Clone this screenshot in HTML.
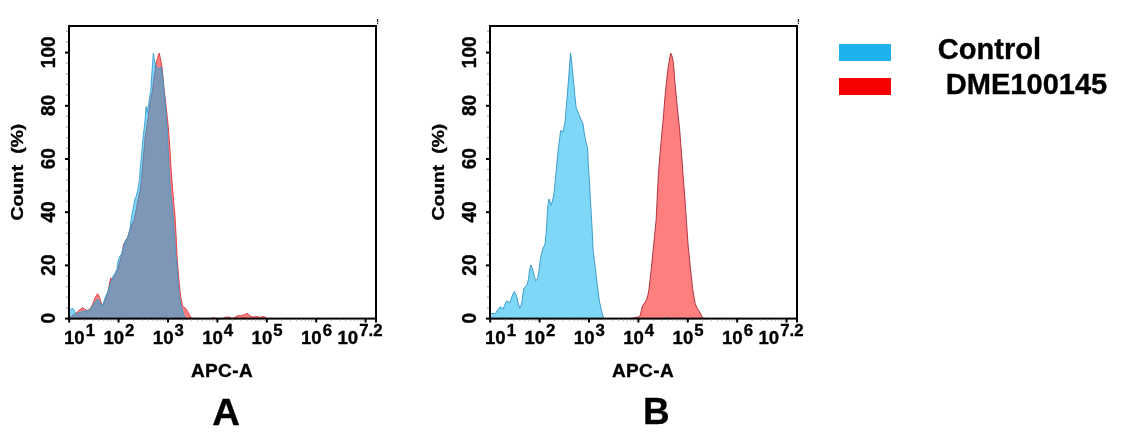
<!DOCTYPE html>
<html><head><meta charset="utf-8"><title>Flow cytometry</title>
<style>
html,body{margin:0;padding:0;background:#fff;}
body{width:1124px;height:444px;overflow:hidden;position:relative;font-family:"Liberation Sans",Arial,Helvetica,sans-serif;}
svg{position:absolute;left:0;top:0;}
text{font-family:"Liberation Sans",Arial,Helvetica,sans-serif;font-weight:bold;fill:#000;stroke:#000;stroke-width:0.35px;}
.yt{font-size:20px;}
.xt{font-size:18.6px;}
.sup{font-size:16.8px;}
.xl{font-size:19px;letter-spacing:0.4px;}
.yl{font-size:17px;word-spacing:5px;}
.big{font-size:36.9px;}
.leg{font-size:29.05px;}
</style></head><body>
<svg width="1124" height="444" viewBox="0 0 1124 444">
<rect width="1124" height="444" fill="#fff"/>
<!-- Panel A -->
<polygon points="69.0,318.6 71.0,316.6 73.0,315.1 76.0,313.1 78.5,311.1 81.0,308.6 82.5,307.6 84.5,309.1 87.0,310.6 90.0,309.1 92.5,304.6 95.0,298.1 96.8,294.6 97.8,293.8 99.0,296.1 100.5,300.6 102.5,306.1 104.5,301.6 106.5,296.6 108.5,289.5 109.8,281.5 110.8,277.9 112.0,279.5 114.0,276.5 116.0,273.5 118.0,268.5 119.5,262.5 121.0,257.5 122.5,252.5 123.5,243.9 124.5,243.0 125.5,241.4 127.6,237.4 129.5,231.4 131.0,226.4 133.9,220.4 136.3,209.3 137.9,199.9 140.2,190.3 141.5,178.3 142.6,165.3 144.0,150.3 145.3,135.2 146.3,129.6 148.0,118.2 149.7,104.8 151.2,97.1 152.5,90.1 153.7,80.1 154.7,73.1 155.8,63.7 157.0,60.1 158.2,56.1 159.2,53.1 160.1,57.1 161.1,62.0 161.9,66.1 162.6,73.1 163.5,82.1 164.2,90.1 165.5,100.2 166.5,110.2 167.4,118.2 168.3,127.2 169.0,136.2 170.0,150.3 170.9,165.3 171.9,180.3 173.2,195.3 174.0,205.4 174.9,214.1 176.2,237.7 177.3,260.5 178.9,279.5 180.6,296.3 182.5,305.6 184.0,307.6 185.3,308.1 186.5,309.6 187.7,311.6 189.5,315.1 191.2,317.6 193.0,318.6 211.0,318.6 213.5,317.4 216.0,318.6 223.0,318.6 225.0,317.1 230.0,317.1 231.5,318.6 233.0,318.6 235.0,317.1 237.8,315.8 240.5,315.6 243.0,315.2 245.0,314.4 247.2,313.2 249.0,315.1 251.4,316.6 254.0,317.1 256.0,316.6 257.7,316.4 260.0,317.6 261.5,316.8 263.0,316.6 265.5,317.1 267.0,318.6" fill="rgba(255,0,0,0.5)" stroke="#d6303a" stroke-width="0.85" stroke-linejoin="round"/>
<polygon points="69.0,318.6 69.5,310.6 71.0,309.1 72.5,308.1 74.5,311.1 76.5,314.6 79.0,312.6 82.0,311.6 85.0,311.1 88.5,310.6 91.0,308.6 93.5,304.6 96.0,300.6 98.0,299.1 100.0,302.1 102.0,306.6 103.5,302.6 105.5,296.6 107.5,292.5 109.5,286.5 111.0,281.5 113.0,276.5 115.0,273.0 116.8,269.5 118.0,261.5 119.3,257.0 121.3,254.5 122.5,250.5 123.5,246.5 125.0,241.4 127.6,237.4 129.0,232.4 130.0,229.4 130.8,221.9 132.0,214.1 133.9,204.6 134.9,198.4 136.0,196.6 137.5,191.3 138.5,185.3 139.4,179.8 140.5,165.3 142.0,150.3 143.2,135.2 144.2,128.2 145.2,118.2 146.1,106.5 146.7,110.2 147.1,112.7 147.8,108.2 148.6,104.8 149.6,97.1 150.8,90.1 151.9,73.1 152.8,60.1 153.4,53.1 154.1,58.1 155.0,63.6 156.5,66.1 158.0,69.1 160.0,68.1 161.4,67.1 162.3,73.9 163.2,82.1 163.8,90.1 165.1,101.2 166.3,118.2 167.2,130.2 167.6,137.2 168.2,150.3 168.9,165.3 169.8,180.3 170.9,195.3 172.3,205.4 173.0,215.4 174.1,229.8 174.9,241.4 175.7,253.5 176.8,265.5 177.6,276.5 178.4,286.5 179.4,296.6 180.6,303.6 182.9,311.6 184.2,315.6 185.3,318.6" fill="rgba(0,176,240,0.5)" stroke="#3399cc" stroke-width="0.85" stroke-linejoin="round"/>
<rect x="69" y="26" width="307" height="292.6" fill="none" stroke="#000" stroke-width="2"/>
<rect x="65" y="317.6" width="4" height="2" fill="#000"/>
<rect x="66" y="307.3" width="2" height="1.2" fill="#a8a8a8"/>
<rect x="66" y="296.6" width="2" height="1.2" fill="#a8a8a8"/>
<rect x="66" y="286.0" width="2" height="1.2" fill="#a8a8a8"/>
<rect x="66" y="275.3" width="2" height="1.2" fill="#a8a8a8"/>
<rect x="65" y="264.4" width="4" height="2" fill="#000"/>
<rect x="66" y="254.1" width="2" height="1.2" fill="#a8a8a8"/>
<rect x="66" y="243.4" width="2" height="1.2" fill="#a8a8a8"/>
<rect x="66" y="232.8" width="2" height="1.2" fill="#a8a8a8"/>
<rect x="66" y="222.1" width="2" height="1.2" fill="#a8a8a8"/>
<rect x="65" y="211.2" width="4" height="2" fill="#000"/>
<rect x="66" y="200.9" width="2" height="1.2" fill="#a8a8a8"/>
<rect x="66" y="190.2" width="2" height="1.2" fill="#a8a8a8"/>
<rect x="66" y="179.6" width="2" height="1.2" fill="#a8a8a8"/>
<rect x="66" y="168.9" width="2" height="1.2" fill="#a8a8a8"/>
<rect x="65" y="158.0" width="4" height="2" fill="#000"/>
<rect x="66" y="147.7" width="2" height="1.2" fill="#a8a8a8"/>
<rect x="66" y="137.0" width="2" height="1.2" fill="#a8a8a8"/>
<rect x="66" y="126.4" width="2" height="1.2" fill="#a8a8a8"/>
<rect x="66" y="115.7" width="2" height="1.2" fill="#a8a8a8"/>
<rect x="65" y="104.8" width="4" height="2" fill="#000"/>
<rect x="66" y="94.5" width="2" height="1.2" fill="#a8a8a8"/>
<rect x="66" y="83.8" width="2" height="1.2" fill="#a8a8a8"/>
<rect x="66" y="73.2" width="2" height="1.2" fill="#a8a8a8"/>
<rect x="66" y="62.5" width="2" height="1.2" fill="#a8a8a8"/>
<rect x="65" y="51.6" width="4" height="2" fill="#000"/>
<rect x="66" y="41.3" width="2" height="1.2" fill="#a8a8a8"/>
<rect x="66" y="30.6" width="2" height="1.2" fill="#a8a8a8"/>
<text transform="translate(55,318.3) rotate(-90) scale(0.95,1)" text-anchor="middle" class="yt">0</text>
<text transform="translate(55,265.1) rotate(-90) scale(0.95,1)" text-anchor="middle" class="yt">20</text>
<text transform="translate(55,211.9) rotate(-90) scale(0.95,1)" text-anchor="middle" class="yt">40</text>
<text transform="translate(55,158.7) rotate(-90) scale(0.95,1)" text-anchor="middle" class="yt">60</text>
<text transform="translate(55,105.5) rotate(-90) scale(0.95,1)" text-anchor="middle" class="yt">80</text>
<text transform="translate(55,52.3) rotate(-90) scale(0.95,1)" text-anchor="middle" class="yt">100</text>
<rect x="68.2" y="318.6" width="2" height="3.9" fill="#000"/>
<rect x="83.6" y="319.6" width="1" height="1.6" fill="#b8b8b8"/>
<rect x="92.3" y="319.6" width="1" height="1.6" fill="#b8b8b8"/>
<rect x="98.4" y="319.6" width="1" height="1.6" fill="#b8b8b8"/>
<rect x="103.2" y="319.6" width="1" height="1.6" fill="#b8b8b8"/>
<rect x="107.1" y="319.6" width="1" height="1.6" fill="#b8b8b8"/>
<rect x="110.4" y="319.6" width="1" height="1.6" fill="#b8b8b8"/>
<rect x="113.3" y="319.6" width="1" height="1.6" fill="#b8b8b8"/>
<rect x="115.8" y="319.6" width="1" height="1.6" fill="#b8b8b8"/>
<rect x="117.6" y="318.6" width="2" height="3.9" fill="#000"/>
<rect x="133.0" y="319.6" width="1" height="1.6" fill="#b8b8b8"/>
<rect x="141.7" y="319.6" width="1" height="1.6" fill="#b8b8b8"/>
<rect x="147.8" y="319.6" width="1" height="1.6" fill="#b8b8b8"/>
<rect x="152.6" y="319.6" width="1" height="1.6" fill="#b8b8b8"/>
<rect x="156.5" y="319.6" width="1" height="1.6" fill="#b8b8b8"/>
<rect x="159.8" y="319.6" width="1" height="1.6" fill="#b8b8b8"/>
<rect x="162.7" y="319.6" width="1" height="1.6" fill="#b8b8b8"/>
<rect x="165.2" y="319.6" width="1" height="1.6" fill="#b8b8b8"/>
<rect x="167.0" y="318.6" width="2" height="3.9" fill="#000"/>
<rect x="182.4" y="319.6" width="1" height="1.6" fill="#b8b8b8"/>
<rect x="191.1" y="319.6" width="1" height="1.6" fill="#b8b8b8"/>
<rect x="197.2" y="319.6" width="1" height="1.6" fill="#b8b8b8"/>
<rect x="202.0" y="319.6" width="1" height="1.6" fill="#b8b8b8"/>
<rect x="205.9" y="319.6" width="1" height="1.6" fill="#b8b8b8"/>
<rect x="209.2" y="319.6" width="1" height="1.6" fill="#b8b8b8"/>
<rect x="212.1" y="319.6" width="1" height="1.6" fill="#b8b8b8"/>
<rect x="214.6" y="319.6" width="1" height="1.6" fill="#b8b8b8"/>
<rect x="216.4" y="318.6" width="2" height="3.9" fill="#000"/>
<rect x="231.8" y="319.6" width="1" height="1.6" fill="#b8b8b8"/>
<rect x="240.5" y="319.6" width="1" height="1.6" fill="#b8b8b8"/>
<rect x="246.6" y="319.6" width="1" height="1.6" fill="#b8b8b8"/>
<rect x="251.4" y="319.6" width="1" height="1.6" fill="#b8b8b8"/>
<rect x="255.3" y="319.6" width="1" height="1.6" fill="#b8b8b8"/>
<rect x="258.6" y="319.6" width="1" height="1.6" fill="#b8b8b8"/>
<rect x="261.5" y="319.6" width="1" height="1.6" fill="#b8b8b8"/>
<rect x="264.0" y="319.6" width="1" height="1.6" fill="#b8b8b8"/>
<rect x="265.8" y="318.6" width="2" height="3.9" fill="#000"/>
<rect x="281.2" y="319.6" width="1" height="1.6" fill="#b8b8b8"/>
<rect x="289.9" y="319.6" width="1" height="1.6" fill="#b8b8b8"/>
<rect x="296.0" y="319.6" width="1" height="1.6" fill="#b8b8b8"/>
<rect x="300.8" y="319.6" width="1" height="1.6" fill="#b8b8b8"/>
<rect x="304.7" y="319.6" width="1" height="1.6" fill="#b8b8b8"/>
<rect x="308.0" y="319.6" width="1" height="1.6" fill="#b8b8b8"/>
<rect x="310.9" y="319.6" width="1" height="1.6" fill="#b8b8b8"/>
<rect x="313.4" y="319.6" width="1" height="1.6" fill="#b8b8b8"/>
<rect x="315.2" y="318.6" width="2" height="3.9" fill="#000"/>
<rect x="330.6" y="319.6" width="1" height="1.6" fill="#b8b8b8"/>
<rect x="339.3" y="319.6" width="1" height="1.6" fill="#b8b8b8"/>
<rect x="345.4" y="319.6" width="1" height="1.6" fill="#b8b8b8"/>
<rect x="350.2" y="319.6" width="1" height="1.6" fill="#b8b8b8"/>
<rect x="354.1" y="319.6" width="1" height="1.6" fill="#b8b8b8"/>
<rect x="357.4" y="319.6" width="1" height="1.6" fill="#b8b8b8"/>
<rect x="360.3" y="319.6" width="1" height="1.6" fill="#b8b8b8"/>
<rect x="362.8" y="319.6" width="1" height="1.6" fill="#b8b8b8"/>
<rect x="364.6" y="318.6" width="2" height="3.9" fill="#000"/>
<rect x="375.0" y="318.6" width="2" height="3.9" fill="#000"/>
<text class="xt" text-anchor="start" transform="translate(64.0,343.8) scale(1,1)">10<tspan dy="-8.1" dx="1.0" class="sup">1</tspan></text>
<text class="xt" text-anchor="middle" transform="translate(118.9,343.8) scale(1,1)">10<tspan dy="-8.1" dx="1.0" class="sup">2</tspan></text>
<text class="xt" text-anchor="middle" transform="translate(168.3,343.8) scale(1,1)">10<tspan dy="-8.1" dx="1.0" class="sup">3</tspan></text>
<text class="xt" text-anchor="middle" transform="translate(217.7,343.8) scale(1,1)">10<tspan dy="-8.1" dx="1.0" class="sup">4</tspan></text>
<text class="xt" text-anchor="middle" transform="translate(267.1,343.8) scale(1,1)">10<tspan dy="-8.1" dx="1.0" class="sup">5</tspan></text>
<text class="xt" text-anchor="middle" transform="translate(316.5,343.8) scale(1,1)">10<tspan dy="-8.1" dx="1.0" class="sup">6</tspan></text>
<text class="xt" text-anchor="end" transform="translate(382.5,343.8) scale(1,1)">10<tspan dy="-8.1" dx="1.0" class="sup">7.2</tspan></text>
<text x="222" y="377" text-anchor="middle" class="xl">APC-A</text>
<text transform="translate(22.6,172.1) rotate(-90) scale(1.135,1)" text-anchor="middle" class="yl" xml:space="preserve">Count (%)</text>
<text transform="translate(226.2,425.2) scale(1.04,1)" text-anchor="middle" class="big">A</text>
<rect x="377" y="19" width="1.2" height="3.2" fill="#222"/><rect x="377" y="23" width="1.2" height="1.2" fill="#222"/>
<!-- Panel B -->
<polygon points="490.0,318.6 490.6,313.5 495.4,313.5 497.5,310.1 500.1,306.9 501.5,307.6 502.9,309.3 504.5,305.6 506.5,301.0 508.0,301.6 509.6,302.9 511.0,299.6 512.6,294.6 514.3,291.4 515.5,293.5 516.6,296.3 518.0,302.6 519.7,308.1 521.0,305.6 522.1,301.0 523.0,293.5 523.7,289.1 525.5,286.5 527.3,284.3 528.5,278.5 529.7,269.5 530.8,264.9 532.0,267.5 533.2,271.3 534.4,276.5 535.6,280.8 536.8,280.0 537.9,277.2 539.0,270.5 540.2,260.5 541.5,253.6 543.0,248.5 545.0,244.0 546.2,232.4 547.0,220.4 547.4,212.4 548.2,203.4 549.0,198.9 550.0,201.9 551.3,205.2 552.3,201.4 553.5,196.3 554.4,189.3 555.3,180.3 556.2,170.8 558.3,148.3 559.7,138.2 560.5,131.2 561.1,130.2 561.9,131.7 562.7,132.5 563.8,128.2 564.9,123.5 567.2,96.4 568.5,80.1 569.5,66.1 570.5,53.1 571.3,58.1 572.3,68.1 573.9,85.1 575.0,97.1 576.2,107.8 578.5,113.2 580.7,119.0 581.8,120.7 582.9,123.5 584.0,131.2 585.0,137.2 586.3,143.2 587.6,148.3 588.3,164.1 589.7,186.6 591.0,209.2 592.2,230.4 593.0,248.9 594.4,260.5 595.8,272.5 597.5,286.5 599.4,301.0 601.5,310.6 603.6,318.6" fill="rgba(0,176,240,0.5)" stroke="#2b8fbf" stroke-width="0.85" stroke-linejoin="round"/>
<polygon points="630.0,318.6 634.0,317.8 637.9,317.1 639.2,316.6 640.3,315.2 641.5,309.6 642.6,305.7 644.5,303.1 646.6,299.8 648.0,294.6 649.0,289.1 651.4,267.8 653.7,244.0 656.1,220.4 657.2,198.0 658.3,175.3 660.1,152.8 662.1,130.2 663.2,119.0 665.0,96.4 667.3,73.9 669.0,62.1 670.7,53.1 672.0,56.1 673.4,62.6 675.2,85.1 677.4,107.8 679.7,130.2 681.5,152.8 683.1,175.3 684.9,198.0 686.4,220.4 688.0,244.0 690.4,267.8 692.7,289.1 695.1,303.3 697.0,308.1 699.4,311.6 701.0,314.6 702.2,317.1 704.0,318.6" fill="rgba(255,0,0,0.5)" stroke="#a01c2c" stroke-width="0.85" stroke-linejoin="round"/>
<polygon points="664.6,318.6 665.6,317.2 666.6,316.9 667.6,317.4 668.4,318.6" fill="rgba(0,176,240,0.55)" stroke="#5a9ac0" stroke-width="0.5"/>
<rect x="490" y="26" width="307" height="292.6" fill="none" stroke="#000" stroke-width="2"/>
<rect x="486" y="317.6" width="4" height="2" fill="#000"/>
<rect x="487" y="307.3" width="2" height="1.2" fill="#a8a8a8"/>
<rect x="487" y="296.6" width="2" height="1.2" fill="#a8a8a8"/>
<rect x="487" y="286.0" width="2" height="1.2" fill="#a8a8a8"/>
<rect x="487" y="275.3" width="2" height="1.2" fill="#a8a8a8"/>
<rect x="486" y="264.4" width="4" height="2" fill="#000"/>
<rect x="487" y="254.1" width="2" height="1.2" fill="#a8a8a8"/>
<rect x="487" y="243.4" width="2" height="1.2" fill="#a8a8a8"/>
<rect x="487" y="232.8" width="2" height="1.2" fill="#a8a8a8"/>
<rect x="487" y="222.1" width="2" height="1.2" fill="#a8a8a8"/>
<rect x="486" y="211.2" width="4" height="2" fill="#000"/>
<rect x="487" y="200.9" width="2" height="1.2" fill="#a8a8a8"/>
<rect x="487" y="190.2" width="2" height="1.2" fill="#a8a8a8"/>
<rect x="487" y="179.6" width="2" height="1.2" fill="#a8a8a8"/>
<rect x="487" y="168.9" width="2" height="1.2" fill="#a8a8a8"/>
<rect x="486" y="158.0" width="4" height="2" fill="#000"/>
<rect x="487" y="147.7" width="2" height="1.2" fill="#a8a8a8"/>
<rect x="487" y="137.0" width="2" height="1.2" fill="#a8a8a8"/>
<rect x="487" y="126.4" width="2" height="1.2" fill="#a8a8a8"/>
<rect x="487" y="115.7" width="2" height="1.2" fill="#a8a8a8"/>
<rect x="486" y="104.8" width="4" height="2" fill="#000"/>
<rect x="487" y="94.5" width="2" height="1.2" fill="#a8a8a8"/>
<rect x="487" y="83.8" width="2" height="1.2" fill="#a8a8a8"/>
<rect x="487" y="73.2" width="2" height="1.2" fill="#a8a8a8"/>
<rect x="487" y="62.5" width="2" height="1.2" fill="#a8a8a8"/>
<rect x="486" y="51.6" width="4" height="2" fill="#000"/>
<rect x="487" y="41.3" width="2" height="1.2" fill="#a8a8a8"/>
<rect x="487" y="30.6" width="2" height="1.2" fill="#a8a8a8"/>
<text transform="translate(476,318.3) rotate(-90) scale(0.95,1)" text-anchor="middle" class="yt">0</text>
<text transform="translate(476,265.1) rotate(-90) scale(0.95,1)" text-anchor="middle" class="yt">20</text>
<text transform="translate(476,211.9) rotate(-90) scale(0.95,1)" text-anchor="middle" class="yt">40</text>
<text transform="translate(476,158.7) rotate(-90) scale(0.95,1)" text-anchor="middle" class="yt">60</text>
<text transform="translate(476,105.5) rotate(-90) scale(0.95,1)" text-anchor="middle" class="yt">80</text>
<text transform="translate(476,52.3) rotate(-90) scale(0.95,1)" text-anchor="middle" class="yt">100</text>
<rect x="489.2" y="318.6" width="2" height="3.9" fill="#000"/>
<rect x="504.6" y="319.6" width="1" height="1.6" fill="#b8b8b8"/>
<rect x="513.3" y="319.6" width="1" height="1.6" fill="#b8b8b8"/>
<rect x="519.4" y="319.6" width="1" height="1.6" fill="#b8b8b8"/>
<rect x="524.2" y="319.6" width="1" height="1.6" fill="#b8b8b8"/>
<rect x="528.1" y="319.6" width="1" height="1.6" fill="#b8b8b8"/>
<rect x="531.4" y="319.6" width="1" height="1.6" fill="#b8b8b8"/>
<rect x="534.3" y="319.6" width="1" height="1.6" fill="#b8b8b8"/>
<rect x="536.8" y="319.6" width="1" height="1.6" fill="#b8b8b8"/>
<rect x="538.6" y="318.6" width="2" height="3.9" fill="#000"/>
<rect x="554.0" y="319.6" width="1" height="1.6" fill="#b8b8b8"/>
<rect x="562.7" y="319.6" width="1" height="1.6" fill="#b8b8b8"/>
<rect x="568.8" y="319.6" width="1" height="1.6" fill="#b8b8b8"/>
<rect x="573.6" y="319.6" width="1" height="1.6" fill="#b8b8b8"/>
<rect x="577.5" y="319.6" width="1" height="1.6" fill="#b8b8b8"/>
<rect x="580.8" y="319.6" width="1" height="1.6" fill="#b8b8b8"/>
<rect x="583.7" y="319.6" width="1" height="1.6" fill="#b8b8b8"/>
<rect x="586.2" y="319.6" width="1" height="1.6" fill="#b8b8b8"/>
<rect x="588.0" y="318.6" width="2" height="3.9" fill="#000"/>
<rect x="603.4" y="319.6" width="1" height="1.6" fill="#b8b8b8"/>
<rect x="612.1" y="319.6" width="1" height="1.6" fill="#b8b8b8"/>
<rect x="618.2" y="319.6" width="1" height="1.6" fill="#b8b8b8"/>
<rect x="623.0" y="319.6" width="1" height="1.6" fill="#b8b8b8"/>
<rect x="626.9" y="319.6" width="1" height="1.6" fill="#b8b8b8"/>
<rect x="630.2" y="319.6" width="1" height="1.6" fill="#b8b8b8"/>
<rect x="633.1" y="319.6" width="1" height="1.6" fill="#b8b8b8"/>
<rect x="635.6" y="319.6" width="1" height="1.6" fill="#b8b8b8"/>
<rect x="637.4" y="318.6" width="2" height="3.9" fill="#000"/>
<rect x="652.8" y="319.6" width="1" height="1.6" fill="#b8b8b8"/>
<rect x="661.5" y="319.6" width="1" height="1.6" fill="#b8b8b8"/>
<rect x="667.6" y="319.6" width="1" height="1.6" fill="#b8b8b8"/>
<rect x="672.4" y="319.6" width="1" height="1.6" fill="#b8b8b8"/>
<rect x="676.3" y="319.6" width="1" height="1.6" fill="#b8b8b8"/>
<rect x="679.6" y="319.6" width="1" height="1.6" fill="#b8b8b8"/>
<rect x="682.5" y="319.6" width="1" height="1.6" fill="#b8b8b8"/>
<rect x="685.0" y="319.6" width="1" height="1.6" fill="#b8b8b8"/>
<rect x="686.8" y="318.6" width="2" height="3.9" fill="#000"/>
<rect x="702.2" y="319.6" width="1" height="1.6" fill="#b8b8b8"/>
<rect x="710.9" y="319.6" width="1" height="1.6" fill="#b8b8b8"/>
<rect x="717.0" y="319.6" width="1" height="1.6" fill="#b8b8b8"/>
<rect x="721.8" y="319.6" width="1" height="1.6" fill="#b8b8b8"/>
<rect x="725.7" y="319.6" width="1" height="1.6" fill="#b8b8b8"/>
<rect x="729.0" y="319.6" width="1" height="1.6" fill="#b8b8b8"/>
<rect x="731.9" y="319.6" width="1" height="1.6" fill="#b8b8b8"/>
<rect x="734.4" y="319.6" width="1" height="1.6" fill="#b8b8b8"/>
<rect x="736.2" y="318.6" width="2" height="3.9" fill="#000"/>
<rect x="751.6" y="319.6" width="1" height="1.6" fill="#b8b8b8"/>
<rect x="760.3" y="319.6" width="1" height="1.6" fill="#b8b8b8"/>
<rect x="766.4" y="319.6" width="1" height="1.6" fill="#b8b8b8"/>
<rect x="771.2" y="319.6" width="1" height="1.6" fill="#b8b8b8"/>
<rect x="775.1" y="319.6" width="1" height="1.6" fill="#b8b8b8"/>
<rect x="778.4" y="319.6" width="1" height="1.6" fill="#b8b8b8"/>
<rect x="781.3" y="319.6" width="1" height="1.6" fill="#b8b8b8"/>
<rect x="783.8" y="319.6" width="1" height="1.6" fill="#b8b8b8"/>
<rect x="785.6" y="318.6" width="2" height="3.9" fill="#000"/>
<rect x="796.0" y="318.6" width="2" height="3.9" fill="#000"/>
<text class="xt" text-anchor="start" transform="translate(485.0,343.8) scale(1,1)">10<tspan dy="-8.1" dx="1.0" class="sup">1</tspan></text>
<text class="xt" text-anchor="middle" transform="translate(539.9,343.8) scale(1,1)">10<tspan dy="-8.1" dx="1.0" class="sup">2</tspan></text>
<text class="xt" text-anchor="middle" transform="translate(589.3,343.8) scale(1,1)">10<tspan dy="-8.1" dx="1.0" class="sup">3</tspan></text>
<text class="xt" text-anchor="middle" transform="translate(638.7,343.8) scale(1,1)">10<tspan dy="-8.1" dx="1.0" class="sup">4</tspan></text>
<text class="xt" text-anchor="middle" transform="translate(688.1,343.8) scale(1,1)">10<tspan dy="-8.1" dx="1.0" class="sup">5</tspan></text>
<text class="xt" text-anchor="middle" transform="translate(737.5,343.8) scale(1,1)">10<tspan dy="-8.1" dx="1.0" class="sup">6</tspan></text>
<text class="xt" text-anchor="end" transform="translate(803.5,343.8) scale(1,1)">10<tspan dy="-8.1" dx="1.0" class="sup">7.2</tspan></text>
<text x="643" y="377" text-anchor="middle" class="xl">APC-A</text>
<text transform="translate(444.4,172.1) rotate(-90) scale(1.135,1)" text-anchor="middle" class="yl" xml:space="preserve">Count (%)</text>
<text transform="translate(656.4,423.6) scale(1.0,1)" text-anchor="middle" class="big">B</text>
<rect x="797.8" y="19" width="1.2" height="3.2" fill="#222"/><rect x="797.8" y="23" width="1.2" height="1.2" fill="#222"/>
<!-- Legend -->
<rect x="839" y="44" width="52" height="17" fill="#1fb0ee"/>
<rect x="839" y="78" width="52" height="17" fill="#f80000"/>
<text x="937.8" y="58.5" class="leg">Control</text>
<text x="945.8" y="93.5" class="leg">DME100145</text>
</svg>
</body></html>
